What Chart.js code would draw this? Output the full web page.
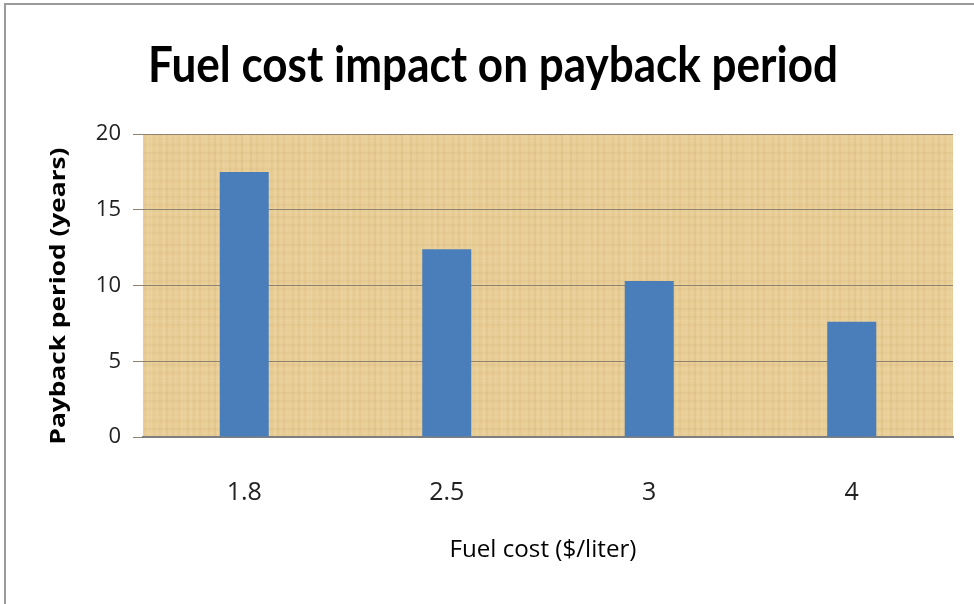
<!DOCTYPE html>
<html>
<head>
<meta charset="utf-8">
<script src="https://cdn.jsdelivr.net/npm/chart.js@4.4.1/dist/chart.umd.min.js"></script>
<style>
html,body{margin:0;padding:0;background:#fff;}
#wrap{position:relative;width:974px;height:604px;}
canvas{display:block;}
</style>
</head>
<body>
<div id="wrap"><canvas id="c" width="974" height="604"></canvas></div>
<script>
const categories = ["1.8", "2.5", "3", "4"];
const paybackYears = [17.5, 12.4, 10.3, 7.6];
const yTicks = [0, 5, 10, 15, 20];
const chartTitle = "Fuel cost impact on payback period";
const xTitle = "Fuel cost ($/liter)";
const yTitle = "Payback period (years)";

function makePaper() {
  const w = 160, h = 120;
  const c = document.createElement('canvas');
  c.width = w; c.height = h;
  const g = c.getContext('2d');
  g.fillStyle = '#e8cd95';
  g.fillRect(0, 0, w, h);
  for (let x = 0; x < w; x += 3) {
    const a = 0.05 + 0.07 * Math.abs(Math.sin(x * 0.37) * Math.cos(x * 0.11));
    g.fillStyle = (Math.sin(x * 0.9) > 0) ? 'rgba(255,245,215,' + a + ')' : 'rgba(190,150,80,' + a + ')';
    g.fillRect(x, 0, 2, h);
  }
  for (let y = 0; y < h; y += 4) {
    const a = 0.04 + 0.04 * Math.abs(Math.sin(y * 0.53));
    g.fillStyle = (Math.cos(y * 0.7) > 0) ? 'rgba(255,240,205,' + a + ')' : 'rgba(180,140,70,' + a + ')';
    g.fillRect(0, y, w, 2);
  }
  return c;
}

function fitText(ctx, text, font, cx, cy, targetW, rot) {
  ctx.save();
  ctx.font = font;
  ctx.fillStyle = '#000';
  ctx.textAlign = 'center';
  ctx.textBaseline = 'middle';
  const m = ctx.measureText(text).width;
  ctx.translate(cx, cy);
  if (rot) ctx.rotate(rot);
  ctx.scale(targetW / m, 1);
  ctx.fillText(text, 0, 0);
  ctx.restore();
}

const paperPlugin = {
  id: 'paper',
  beforeDraw(chart) {
    const {ctx, chartArea: a} = chart;
    ctx.save();
    ctx.fillStyle = ctx.createPattern(makePaper(), 'repeat');
    ctx.fillRect(a.left, a.top, a.right - a.left, a.bottom - a.top);
    ctx.restore();
  },
  afterDraw(chart) {
    const ctx = chart.ctx;
    ctx.save();
    ctx.strokeStyle = '#9a9a9a';
    ctx.lineWidth = 2;
    ctx.beginPath();
    ctx.moveTo(5, 604);
    ctx.lineTo(5, 4);
    ctx.lineTo(974, 4);
    ctx.stroke();
    ctx.restore();
    fitText(ctx, chartTitle, 'bold 50px Lato', 493, 66, 690, 0);
    fitText(ctx, yTitle, 'bold 22px "Open Sans"', 59, 296, 297, -Math.PI / 2);
    fitText(ctx, xTitle, '23px "Open Sans"', 543, 550, 187, 0);
  }
};

new Chart(document.getElementById('c'), {
  type: 'bar',
  data: {
    labels: categories,
    datasets: [{
      data: paybackYears,
      backgroundColor: '#4a7ebb',
      borderWidth: 0,
      categoryPercentage: 1,
      barPercentage: 0.242
    }]
  },
  options: {
    responsive: false,
    animation: false,
    layout: { padding: { left: 0, right: 21, top: 134, bottom: 0 } },
    plugins: {
      legend: { display: false },
      tooltip: { enabled: false },
      title: { display: false }
    },
    scales: {
      x: {
        grid: { display: false },
        border: { display: true, color: '#7f7f7f', width: 2 },
        ticks: { color: '#222', font: { family: '"Open Sans"', size: 25 }, padding: 33 },
        afterFit(s) { s.height = 167; }
      },
      y: {
        min: 0, max: 20,
        afterBuildTicks(s) { s.ticks = yTicks.map(v => ({ value: v })); },
        grid: { color: '#8f8270', lineWidth: 1, tickLength: 10, drawTicks: true },
        border: { display: false },
        ticks: { color: '#222', font: { family: '"Open Sans"', size: 22 }, padding: 12 },
        afterFit(s) { s.width = 143; }
      }
    }
  },
  plugins: [paperPlugin]
});
</script>
</body>
</html>
